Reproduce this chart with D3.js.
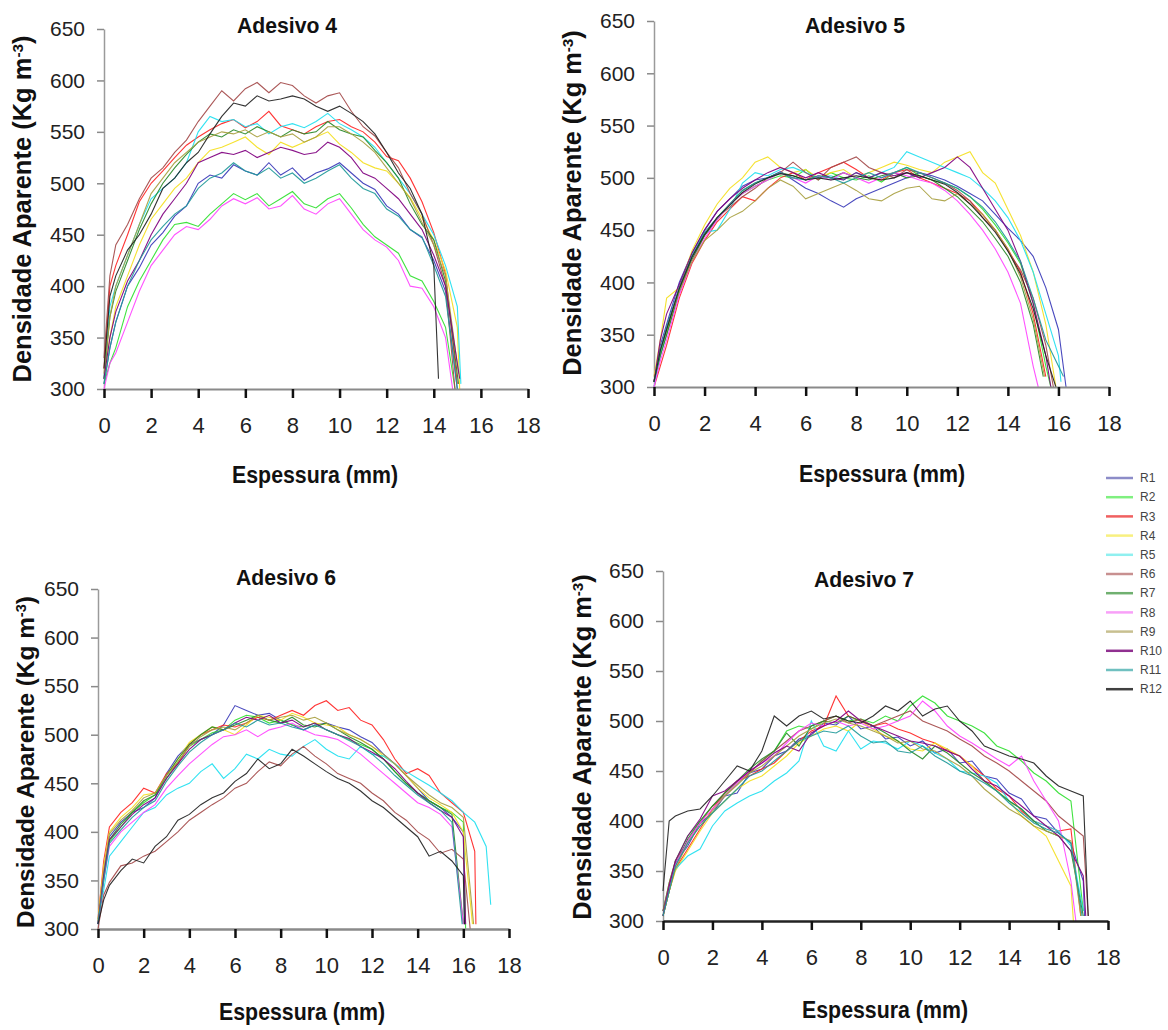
<!DOCTYPE html>
<html><head><meta charset="utf-8">
<script src="https://cdn.jsdelivr.net/npm/d3@7"></script>
<style>
body{margin:0;background:#fff}
svg{display:block}
text{font-family:"Liberation Sans",Arial,Helvetica,sans-serif}
</style>
</head><body>
<svg id="chart" width="1168" height="1030"></svg>
<script>
// ---------- DATA ----------
const seriesNames = ["R1","R2","R3","R4","R5","R6","R7","R8","R9","R10","R11","R12"];
const lineColors  = ["#3a3ab8","#30e030","#ff2424","#f4e020","#20e0f0","#a44a4a","#2a8a2a","#ff44ff","#a8a040","#800080","#229a9a","#222222"];
const legendColors= ["#8c8cc8","#80f080","#f06060","#f8f080","#90f0f0","#c89090","#70b070","#f8a0f8","#c8c090","#903090","#70c0c0","#404040"];
const xGrid = [0,0.25,0.5,1,1.5,2,2.5,3,3.5,4,4.5,5,5.5,6,6.5,7,7.5,8,8.5,9,9.5,10,10.5,11,11.5,12,12.5,13,13.5,14,14.5,15,15.5,16,16.5,17];
const xTicks = [0,2,4,6,8,10,12,14,16,18];
const yTicks = [300,350,400,450,500,550,600,650];
const panelTitles = ["Adesivo 4","Adesivo 5","Adesivo 6","Adesivo 7"];
const xTitle = "Espessura (mm)";

// Adesivo 4 (values on xGrid; last value placed at the series end thickness)
const ad4 = [
 [305,340,365,400,418,440,452,468,478,500,508,505,518,512,508,520,508,515,503,510,514,520,510,500,494,478,470,455,447,425,395,300],
 [305,325,340,380,405,425,445,460,462,458,470,480,490,484,490,478,485,492,480,476,485,490,476,460,448,440,432,410,405,385,360,300],
 [320,400,420,450,482,500,512,525,537,545,552,558,562,554,560,570,556,552,548,555,560,562,555,550,540,526,522,505,482,452,412,305],
 [310,350,380,410,440,465,480,495,505,520,532,535,540,545,535,528,540,535,540,545,550,538,530,520,515,512,500,486,466,445,415,360,300],
 [310,380,400,430,460,485,495,505,520,550,565,560,562,555,558,548,555,558,554,560,568,558,552,545,535,520,505,490,470,450,420,380,305],
 [330,410,440,460,485,505,515,530,542,560,575,590,580,592,598,588,598,595,585,578,585,588,570,555,546,530,515,490,470,440,400,300],
 [310,370,395,425,455,480,500,515,528,540,548,545,552,548,555,550,545,552,548,550,560,552,548,545,532,520,505,480,460,445,405,305],
 [300,325,335,365,395,420,435,450,458,455,465,478,485,480,486,475,478,488,475,470,480,485,470,455,445,438,425,400,398,380,350,300],
 [315,370,400,430,460,490,505,520,530,540,545,550,548,552,545,550,545,548,540,545,555,555,548,540,530,515,500,485,462,440,410,315],
 [310,350,375,405,425,450,470,485,500,520,525,530,528,532,525,530,535,532,528,530,540,535,525,510,505,495,485,470,455,430,400,310],
 [305,340,365,400,425,445,458,470,478,495,505,510,520,512,508,515,505,510,500,505,512,518,505,495,490,475,468,455,448,420,390,300],
 [320,390,410,435,450,470,495,505,520,530,548,565,578,575,585,580,582,585,582,575,570,575,568,560,548,530,510,495,470,420,310]
];
const ad4End = [15.0,14.9,15.0,15.1,15.15,14.9,15.05,14.8,15.05,15.1,15.0,14.2];

// Adesivo 5
const ad5 = [
 [305,340,360,400,428,450,468,480,492,498,500,506,498,490,485,478,472,480,485,490,495,500,505,502,498,492,485,478,465,452,440,425,395,355,300],
 [305,330,350,390,420,445,462,475,485,492,498,502,500,508,498,505,500,498,502,496,505,510,502,498,495,490,482,470,455,438,418,380,320,300],
 [300,320,340,385,418,440,458,470,482,478,490,500,505,498,505,510,515,508,500,498,505,508,500,495,490,485,478,465,450,432,410,370,310],
 [310,345,385,395,430,455,475,490,500,515,520,510,505,508,500,505,508,500,505,510,515,512,508,505,515,520,525,505,495,470,445,410,360,300],
 [300,330,355,395,425,448,450,470,495,505,502,508,510,505,500,502,498,505,500,505,510,525,520,515,510,505,500,490,478,462,440,410,370,330,305],
 [305,335,355,395,425,445,462,472,482,490,500,505,515,505,498,510,515,520,510,505,500,508,505,500,495,488,478,462,450,430,412,385,340,300],
 [305,330,350,392,422,445,460,475,488,495,500,505,502,498,502,500,505,500,498,502,505,500,502,498,490,482,470,458,442,425,400,360,310],
 [300,325,345,388,420,442,460,475,485,492,498,505,500,495,502,498,505,500,495,500,505,502,498,495,488,478,465,450,432,410,380,320,300],
 [305,335,355,392,420,440,450,462,468,478,490,498,492,480,485,490,495,488,480,478,485,490,492,480,478,485,475,465,450,432,405,365,310],
 [305,345,370,398,428,450,468,480,490,498,505,510,505,500,505,500,498,505,500,505,502,505,500,505,510,520,510,490,470,450,420,380,330,300],
 [305,335,358,395,425,448,462,475,488,495,500,505,500,498,502,500,495,500,505,500,505,510,505,500,495,490,482,472,458,440,420,385,345,310],
 [305,335,355,394,424,446,462,474,486,494,500,504,502,498,500,498,500,502,500,498,500,505,502,498,494,486,475,462,448,430,408,375,330,300]
];
const ad5End = [16.3,15.7,15.5,15.9,16.1,15.8,15.4,15.2,15.45,15.7,16.2,15.9];

// Adesivo 6
const ad6 = [
 [305,360,395,410,420,425,435,460,478,490,495,500,510,530,525,520,522,515,510,505,510,512,508,505,498,492,480,470,458,445,432,425,415,400,305],
 [305,350,390,405,420,430,438,455,472,488,495,502,505,515,520,518,512,515,510,508,512,505,500,495,490,485,475,462,450,440,432,425,420,410,300],
 [310,370,405,420,430,445,440,460,470,490,500,505,510,508,512,518,515,520,525,520,530,535,525,528,515,510,495,475,460,465,458,440,430,420,380,305],
 [310,365,400,415,425,438,440,458,475,492,500,508,505,500,510,520,518,515,522,518,512,510,508,500,495,488,478,470,458,445,435,428,420,400,305],
 [310,340,375,390,405,420,425,438,445,450,462,470,455,465,480,475,485,480,478,488,495,485,478,475,488,480,478,470,462,455,448,440,432,420,410,385,325],
 [300,335,348,365,368,375,380,390,400,412,420,428,435,445,450,462,472,468,480,488,478,470,460,455,450,440,432,420,412,400,392,378,382,372,300],
 [305,355,392,408,420,432,438,458,475,490,500,508,505,510,515,520,515,512,518,510,508,512,505,498,492,485,475,462,450,440,432,425,418,305],
 [305,350,385,400,410,420,428,445,458,470,480,490,498,500,505,498,505,508,512,505,500,498,495,488,480,470,460,450,440,430,425,418,405,305],
 [308,360,398,412,422,435,440,458,472,488,498,505,508,505,512,520,515,518,520,515,518,512,505,500,495,488,480,470,458,448,438,430,425,415,305],
 [305,355,392,405,418,428,435,455,470,485,495,500,505,512,518,515,520,512,515,508,512,505,500,496,488,482,475,465,452,440,430,422,415,395,305],
 [305,350,388,402,415,425,432,452,468,482,492,500,505,512,508,515,510,512,508,505,510,505,500,494,488,480,470,458,448,438,430,422,410,305],
 [305,330,345,360,372,368,385,395,412,418,428,435,440,452,460,475,465,470,485,478,470,462,455,450,442,432,425,415,405,395,375,380,370,355,305]
];
const ad6End = [16.05,16.1,16.55,16.4,17.2,16.3,16.0,16.0,16.45,16.1,15.95,16.05];

// Adesivo 7
const ad7 = [
 [310,335,358,375,398,408,425,428,448,452,465,470,482,486,498,496,505,492,495,482,484,475,480,468,472,458,460,445,442,428,422,405,402,388,378,340,305],
 [310,338,360,385,400,415,425,438,448,460,470,490,495,492,500,505,500,502,498,505,500,515,525,518,505,500,495,488,475,470,460,448,440,428,420,310],
 [305,330,352,372,392,412,428,440,445,452,458,470,480,490,495,525,505,500,495,498,492,488,482,478,470,465,455,445,432,425,410,400,395,390,392,305],
 [305,330,350,370,390,408,420,432,440,445,455,465,478,485,492,495,490,500,492,485,480,472,470,478,472,465,455,440,430,420,405,395,385,360,335,300],
 [305,335,352,365,372,395,410,418,425,430,440,448,460,500,475,470,490,472,480,478,472,480,475,468,462,450,448,445,438,420,412,400,395,390,375,310],
 [310,338,360,380,398,415,428,440,448,460,470,480,490,495,500,505,498,502,495,500,505,510,500,495,490,482,475,465,458,450,440,430,420,405,395,385,305],
 [305,330,355,382,400,415,428,440,452,462,470,488,475,495,500,498,505,500,495,488,480,470,462,475,468,458,448,440,430,420,412,400,390,385,370,305],
 [305,332,356,380,398,412,425,438,450,458,465,478,490,498,495,500,495,498,492,495,500,505,520,510,495,485,478,470,462,455,465,440,420,400,340,300],
 [305,330,352,378,395,410,425,436,448,455,465,475,485,492,498,502,498,495,490,485,478,480,472,470,462,455,445,432,422,412,405,395,390,385,380,305],
 [305,335,360,385,402,425,430,440,450,458,468,475,470,488,495,500,510,500,495,490,485,480,478,475,470,465,452,440,435,425,415,405,395,385,370,345,305],
 [305,330,355,378,395,408,420,432,445,450,460,470,480,485,490,488,495,485,478,480,470,468,475,465,458,450,445,438,430,418,408,398,392,388,378,305],
 [330,400,405,410,412,425,440,455,450,470,505,495,505,510,502,505,500,498,505,515,510,520,505,512,515,500,490,475,470,465,462,458,445,435,430,425,305]
];
const ad7End = [17.05,17.0,16.9,16.6,17.0,17.2,17.0,16.7,16.9,17.1,16.95,17.2];

// ---------- LAYOUT ----------
const panels = [
 {title:panelTitles[0], data:ad4, ends:ad4End, x0:104, x1:528, yTop:29,  yBot:389, tX:287, tY:25,  xtX:315, xtY:475,  ytX:22,  ytY:209, ytSize:25.5, xAxisColor:"#8a8a8a", xAxisW:2},
 {title:panelTitles[1], data:ad5, ends:ad5End, x0:654, x1:1109,yTop:21,  yBot:387, tX:855, tY:25,  xtX:882, xtY:474,  ytX:572, ytY:203, ytSize:25.4, xAxisColor:"#8a8a8a", xAxisW:2},
 {title:panelTitles[2], data:ad6, ends:ad6End, x0:98,  x1:509, yTop:589, yBot:929, tX:286, tY:577, xtX:302, xtY:1012, ytX:25,  ytY:762, ytSize:24.4, xAxisColor:"#8a8a8a", xAxisW:2.5},
 {title:panelTitles[3], data:ad7, ends:ad7End, x0:663, x1:1108,yTop:571, yBot:921, tX:864, tY:579, xtX:885, xtY:1010, ytX:582, ytY:747, ytSize:25.4, xAxisColor:"#222", xAxisW:2.5}
];

const svg = d3.select("#chart");

panels.forEach(p => {
  const x = d3.scaleLinear().domain([0,18]).range([p.x0,p.x1]);
  const y = d3.scaleLinear().domain([300,650]).range([p.yBot,p.yTop]);
  const g = svg.append("g");

  // Y axis
  const ya = g.append("g").attr("transform",`translate(${p.x0},0)`)
    .call(d3.axisLeft(y).tickValues(yTicks).tickSize(7).tickSizeOuter(0).tickPadding(12));
  ya.select(".domain").attr("stroke","#9a9a9a").attr("stroke-width",1.5);
  ya.selectAll(".tick line").attr("stroke","#8a8a8a").attr("stroke-width",1.5);
  ya.selectAll(".tick text").attr("font-size",21).attr("fill","#222")
    .attr("font-family","'Liberation Sans',Arial,sans-serif");

  // series lines
  const line = d3.line().x(d=>x(d[0])).y(d=>y(d[1]));
  p.data.forEach((vals,i) => {
    const pts = vals.map((v,j) => [j < vals.length-1 ? xGrid[j] : p.ends[i], v]);
    g.append("path").attr("d", line(pts)).attr("fill","none")
      .attr("stroke", lineColors[i]).attr("stroke-width",1.1).attr("stroke-opacity",0.92);
  });

  // X axis
  const xa = g.append("g").attr("transform",`translate(0,${p.yBot})`)
    .call(d3.axisBottom(x).tickValues(xTicks).tickSize(9).tickSizeOuter(0).tickPadding(19));
  xa.select(".domain").attr("stroke",p.xAxisColor).attr("stroke-width",p.xAxisW);
  xa.selectAll(".tick line").attr("stroke","#111").attr("stroke-width",2.5);
  xa.selectAll(".tick text").attr("font-size",22).attr("fill","#222")
    .attr("font-family","'Liberation Sans',Arial,sans-serif");

  // title
  g.append("text").attr("x",p.tX).attr("y",p.tY).attr("dy","0.35em")
    .attr("text-anchor","middle").attr("font-weight","bold").attr("font-size",22)
    .attr("textLength",100).attr("lengthAdjust","spacingAndGlyphs")
    .attr("fill","#111").text(p.title);

  // x title
  g.append("text").attr("x",p.xtX).attr("y",p.xtY).attr("dy","0.35em")
    .attr("text-anchor","middle").attr("font-weight","bold").attr("font-size",24)
    .attr("textLength",166).attr("lengthAdjust","spacingAndGlyphs")
    .attr("fill","#111").text(xTitle);

  // y title
  const yt = g.append("text").attr("transform",`translate(${p.ytX},${p.ytY}) rotate(-90)`)
    .attr("dy","0.35em").attr("text-anchor","middle").attr("font-weight","bold")
    .attr("font-size",p.ytSize).attr("fill","#111");
  yt.append("tspan").text("Densidade Aparente (Kg m");
  yt.append("tspan").attr("baseline-shift","super").attr("font-size",p.ytSize*0.6).text("-3");
  yt.append("tspan").text(")");
});

// legend
const lg = svg.append("g");
seriesNames.forEach((n,i) => {
  const yy = 478 + i*19.2;
  lg.append("line").attr("x1",1106).attr("x2",1133).attr("y1",yy).attr("y2",yy)
    .attr("stroke",legendColors[i]).attr("stroke-width",2.5);
  lg.append("text").attr("x",1140).attr("y",yy).attr("dy","0.35em")
    .attr("font-size",12).attr("fill","#444").text(n);
});
</script>
</body></html>
